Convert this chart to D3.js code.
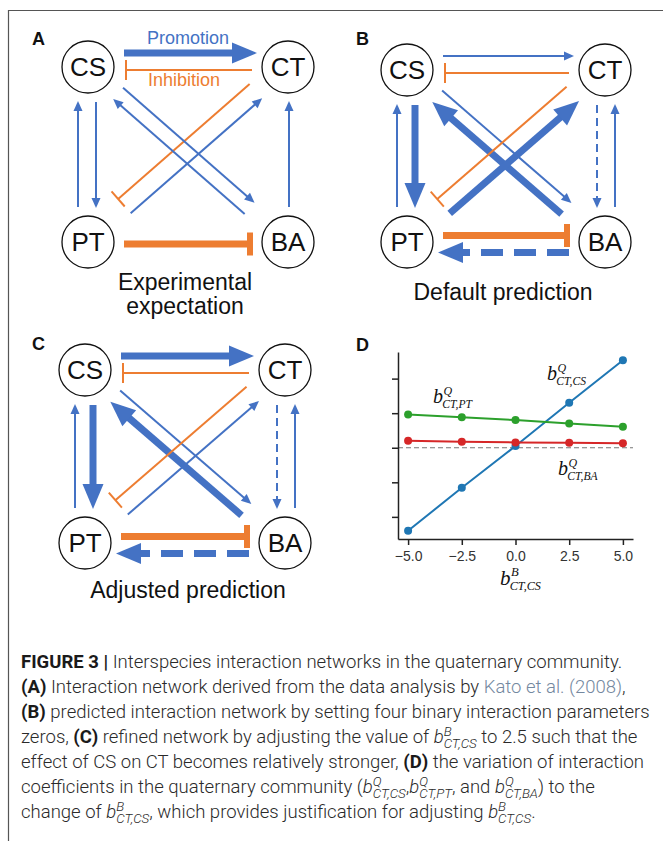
<!DOCTYPE html>
<html>
<head>
<meta charset="utf-8">
<script src="https://cdn.jsdelivr.net/npm/d3@7"></script>
<style>
  body { margin: 0; background: #fff; }
  svg { display: block; }
</style>
</head>
<body>
<svg id="fig" width="663" height="841"></svg>
<script>
const BLUE = '#4472c4', ORANGE = '#ed7d31'
const SANS = '"Liberation Sans", Arial, sans-serif'
const SERIF = '"Liberation Serif", "Times New Roman", serif'

// ---- network data: [source, target, kind, weight, dashed]
const nodeNames = ['CS', 'CT', 'PT', 'BA']
const nodeCol = { CS: 0, CT: 1, PT: 0, BA: 1 }
const nodeRow = { CS: 0, CT: 0, PT: 1, BA: 1 }

const edgesA = [
  ['CS', 'CT', 'promote', 'thick', false],
  ['CT', 'CS', 'inhibit', 'thin', false],
  ['CS', 'PT', 'promote', 'thin', false],
  ['PT', 'CS', 'promote', 'thin', false],
  ['BA', 'CT', 'promote', 'thin', false],
  ['PT', 'BA', 'inhibit', 'thick', false],
  ['CT', 'PT', 'inhibit', 'thin', false],
  ['PT', 'CT', 'promote', 'thin', false],
  ['CS', 'BA', 'promote', 'thin', false],
  ['BA', 'CS', 'promote', 'thin', false]
]
const edgesB = [
  ['CS', 'CT', 'promote', 'thin', false],
  ['CT', 'CS', 'inhibit', 'thin', false],
  ['CS', 'PT', 'promote', 'thick', false],
  ['PT', 'CS', 'promote', 'thin', false],
  ['CT', 'BA', 'promote', 'thin', true],
  ['BA', 'CT', 'promote', 'thin', false],
  ['CS', 'BA', 'promote', 'thin', false],
  ['BA', 'CS', 'promote', 'thick', false],
  ['PT', 'CT', 'promote', 'thick', false],
  ['CT', 'PT', 'inhibit', 'thin', false],
  ['PT', 'BA', 'inhibit', 'thick', false],
  ['BA', 'PT', 'promote', 'thick', true]
]
const edgesC = [
  ['CS', 'CT', 'promote', 'thick', false],
  ['CT', 'CS', 'inhibit', 'thin', false],
  ['CS', 'PT', 'promote', 'thick', false],
  ['PT', 'CS', 'promote', 'thin', false],
  ['CT', 'BA', 'promote', 'thin', true],
  ['BA', 'CT', 'promote', 'thin', false],
  ['CS', 'BA', 'promote', 'thin', false],
  ['BA', 'CS', 'promote', 'thick', false],
  ['PT', 'CT', 'promote', 'thin', false],
  ['CT', 'PT', 'inhibit', 'thin', false],
  ['PT', 'BA', 'inhibit', 'thick', false],
  ['BA', 'PT', 'promote', 'thick', true]
]

// ---- panel D data
const bValues = [-5, -2.5, 0, 2.5, 5]
const coefCS = [-2.40, -1.16, 0.05, 1.30, 2.53]
const coefPT = [0.965, 0.88, 0.80, 0.705, 0.61]
const coefBA = [0.20, 0.17, 0.155, 0.145, 0.13]
const xTicks = [-5, -2.5, 0, 2.5, 5]
const yTicks = [-2, -1, 0, 1, 2]

// ---- caption
const captionLines = [
  [{ t: 'FIGURE 3 |', b: true }, { t: ' Interspecies interaction networks in the quaternary community.' }],
  [{ t: '(A)', b: true }, { t: ' Interaction network derived from the data analysis by ' }, { t: 'Kato et al. (2008)', link: true }, { t: ',' }],
  [{ t: '(B)', b: true }, { t: ' predicted interaction network by setting four binary interaction parameters' }],
  [{ t: 'zeros, ' }, { t: '(C)', b: true }, { t: ' refined network by adjusting the value of ' }, { m: ['B', 'CT,CS'] }, { t: ' to 2.5 such that the' }],
  [{ t: 'effect of CS on CT becomes relatively stronger, ' }, { t: '(D)', b: true }, { t: ' the variation of interaction' }],
  [{ t: 'coefficients in the quaternary community (' }, { m: ['Q', 'CT,CS'] }, { t: ',' }, { m: ['Q', 'CT,PT'] }, { t: ', and ' }, { m: ['Q', 'CT,BA'] }, { t: ') to the' }],
  [{ t: 'change of ' }, { m: ['B', 'CT,CS'] }, { t: ', which provides justification for adjusting ' }, { m: ['B', 'CT,CS'] }, { t: '.' }]
]

const svg = d3.select('#fig')

// frame
svg.append('path').attr('d', 'M8.5,841V10.5H663').attr('fill', 'none').attr('stroke', '#555').attr('stroke-width', 1.2)

const networkPanels = [
  { label: 'A', edges: edgesA, x: [88, 288], y: [67, 242], lx: 32, ly: 45, title: ['Experimental', 'expectation'], tx: 185, ty: 290 },
  { label: 'B', edges: edgesB, x: [407, 605], y: [70, 242], lx: 356, ly: 45, title: ['Default prediction'], tx: 503, ty: 300 },
  { label: 'C', edges: edgesC, x: [85, 285], y: [370, 543], lx: 32, ly: 350, title: ['Adjusted prediction'], tx: 188, ty: 598 }
]

const style = {
  thin: { sw: 2, headL: 10, headW: 4.5, bar: 10, barW: 2, dash: '8,5' },
  thick: { sw: 7, headL: 25, headW: 10.5, bar: 11.5, barW: 6, dash: '22,11' }
}

function drawNetwork(p) {
  const g = svg.append('g')
  const xs = d3.scaleLinear().domain([0, 1]).range(p.x)
  const ys = d3.scaleLinear().domain([0, 1]).range(p.y)
  const pos = n => ({ x: xs(nodeCol[n]), y: ys(nodeRow[n]) })
  const edges = p.edges.map(([source, target, kind, weight, dashed]) => ({ source, target, kind, weight, dashed }))
  const hasPair = e => edges.some(o => o.source === e.target && o.target === e.source)

  edges.forEach(e => {
    const s = pos(e.source), t = pos(e.target)
    const dx = t.x - s.x, dy = t.y - s.y, len = Math.hypot(dx, dy)
    const ux = dx / len, uy = dy / len
    const lx = uy, ly = -ux // left of travel
    let side = 1, mag = 0, shx = 0, shy = 0, gs, gt
    const sameRow = nodeRow[e.source] === nodeRow[e.target]
    const sameCol = nodeCol[e.source] === nodeCol[e.target]
    if (sameRow) {
      mag = 8.5
      shy = nodeRow[e.source] === 0 ? -5.5 : 2
      gs = 36; gt = e.kind === 'inhibit' ? 38 : 31
    } else if (sameCol) {
      mag = 9
      side = nodeCol[e.source] === 0 ? 1 : -1
      shx = nodeCol[e.source] === 0 ? -1 : 1
      gs = 35; gt = 34
    } else {
      const main = (e.source === 'CS' || e.source === 'BA')
      side = main ? 1 : -1
      mag = main ? 7.5 : 9.5
      if (!main) { shx = -2; shy = -2.3 }
      gs = nodeRow[e.source] === 0 ? 40 : 51
      gt = nodeRow[e.target] === 0 ? 40 : 51
    }
    const off = hasPair(e) ? mag * side : 0
    const ox = lx * off + shx, oy = ly * off + shy
    const x0 = s.x + ux * gs + ox, y0 = s.y + uy * gs + oy
    const x1 = t.x - ux * gt + ox, y1 = t.y - uy * gt + oy
    const st = style[e.weight]
    const color = e.kind === 'promote' ? BLUE : ORANGE
    if (e.kind === 'promote') {
      const bx = x1 - ux * st.headL * 0.85, by = y1 - uy * st.headL * 0.85
      g.append('line').attr('x1', x0).attr('y1', y0).attr('x2', bx).attr('y2', by)
        .attr('stroke', color).attr('stroke-width', st.sw)
        .attr('stroke-dasharray', e.dashed ? st.dash : null)
      const hx = x1 - ux * st.headL, hy = y1 - uy * st.headL
      const pts = [[x1, y1], [hx + lx * st.headW, hy + ly * st.headW], [hx - lx * st.headW, hy - ly * st.headW]]
      g.append('path').attr('d', d3.line()(pts) + 'Z').attr('fill', color)
    } else {
      g.append('line').attr('x1', x0).attr('y1', y0).attr('x2', x1).attr('y2', y1)
        .attr('stroke', color).attr('stroke-width', st.sw)
      g.append('line')
        .attr('x1', x1 + lx * st.bar).attr('y1', y1 + ly * st.bar)
        .attr('x2', x1 - lx * st.bar).attr('y2', y1 - ly * st.bar)
        .attr('stroke', color).attr('stroke-width', st.barW)
    }
  })

  const nodes = g.selectAll('g.node').data(nodeNames).join('g').attr('class', 'node')
    .attr('transform', d => `translate(${pos(d).x},${pos(d).y})`)
  nodes.append('circle').attr('r', 26).attr('fill', '#fff').attr('stroke', '#111').attr('stroke-width', 1.3)
  nodes.append('text').text(d => d).attr('text-anchor', 'middle').attr('dy', '0.36em')
    .attr('font-family', SANS).attr('font-size', 26).attr('fill', '#111')

  g.append('text').text(p.label).attr('x', p.lx).attr('y', p.ly)
    .attr('font-family', SANS).attr('font-weight', 'bold').attr('font-size', 18).attr('fill', '#111')
  p.title.forEach((line, i) => {
    g.append('text').text(line).attr('x', p.tx).attr('y', p.ty + i * 24)
      .attr('text-anchor', 'middle').attr('font-family', SANS).attr('font-size', 23).attr('fill', '#111')
  })
  return g
}

const gA = drawNetwork(networkPanels[0])
drawNetwork(networkPanels[1])
drawNetwork(networkPanels[2])

gA.append('text').text('Promotion').attr('x', 188).attr('y', 44).attr('text-anchor', 'middle')
  .attr('font-family', SANS).attr('font-size', 18).attr('fill', BLUE)
gA.append('text').text('Inhibition').attr('x', 184).attr('y', 86).attr('text-anchor', 'middle')
  .attr('font-family', SANS).attr('font-size', 18).attr('fill', ORANGE)

// ---- panel D
const gD = svg.append('g')
const x = d3.scaleLinear().domain([-5.47, 5.47]).range([398, 633])
const y = d3.scaleLinear().domain([-2.64, 2.77]).range([539, 352])

gD.append('text').text('D').attr('x', 356).attr('y', 351)
  .attr('font-family', SANS).attr('font-weight', 'bold').attr('font-size', 18).attr('fill', '#111')

gD.append('line').attr('x1', x.range()[0]).attr('x2', x.range()[1]).attr('y1', y(0)).attr('y2', y(0))
  .attr('stroke', '#777').attr('stroke-width', 1.1).attr('stroke-dasharray', '5,3')

const series = [
  { vals: coefCS, color: '#1f77b4' },
  { vals: coefPT, color: '#2ca02c' },
  { vals: coefBA, color: '#d62728' }
]
series.forEach(s => {
  const pts = bValues.map((b, i) => [x(b), y(s.vals[i])])
  gD.append('path').attr('d', d3.line()(pts)).attr('fill', 'none').attr('stroke', s.color).attr('stroke-width', 2)
  gD.selectAll(null).data(pts).join('circle').attr('cx', d => d[0]).attr('cy', d => d[1]).attr('r', 4).attr('fill', s.color)
})

const yAxis = gD.append('g').attr('transform', `translate(${x.range()[0]},0)`)
  .call(d3.axisLeft(y).tickValues(yTicks).tickFormat('').tickSize(6).tickSizeOuter(0))
yAxis.selectAll('text').remove()
const xAxis = gD.append('g').attr('transform', `translate(0,${y.range()[0]})`)
  .call(d3.axisBottom(x).tickValues(xTicks).tickFormat(d3.format('.1f')).tickSize(6).tickSizeOuter(0).tickPadding(6))
;[yAxis, xAxis].forEach(a => {
  a.selectAll('path, line').attr('stroke', '#222').attr('stroke-width', 1.5)
  a.selectAll('text').attr('font-family', SANS).attr('font-size', 14).attr('fill', '#333')
})

function mathLabel(g, x0, y0, sup, sub, size, family, color) {
  const t = g.append('text').attr('x', x0).attr('y', y0).attr('font-family', family)
    .attr('font-style', 'italic').attr('fill', color).attr('font-size', size)
  t.append('tspan').text('b')
  const sp = t.append('tspan').text(sup).attr('font-size', size * 0.6).attr('dy', -size * 0.42).attr('dx', size * 0.02)
  const w1 = sp.node().getComputedTextLength()
  t.append('tspan').text(sub).attr('font-size', size * 0.58).attr('dy', size * 0.68).attr('dx', -w1 - size * 0.06)
  return t
}
mathLabel(gD, 547, 380, 'Q', 'CT,CS', 20, SERIF, '#111')
mathLabel(gD, 433, 403, 'Q', 'CT,PT', 20, SERIF, '#111')
mathLabel(gD, 558, 475, 'Q', 'CT,BA', 20, SERIF, '#111')
mathLabel(gD, 500, 585, 'B', 'CT,CS', 21, SERIF, '#111')

// ---- caption
const capX = 21, capY = 668, capStep = 25
const capFont = 'Roboto, "Liberation Sans", sans-serif'
function writeLine(line, i, fs) {
  const t = svg.append('text').attr('x', capX).attr('y', capY + i * capStep)
    .attr('font-family', capFont).attr('font-size', fs).attr('fill', '#2a2a2a')
    .attr('font-weight', 300).style('white-space', 'pre')
  let pendDx = 0, pendDy = 0
  const add = (txt) => {
    const ts = t.append('tspan').text(txt)
    if (pendDx) ts.attr('dx', pendDx)
    if (pendDy) ts.attr('dy', pendDy)
    pendDx = 0; pendDy = 0
    return ts
  }
  line.forEach(seg => {
    if (seg.m) {
      add('b').attr('font-style', 'italic')
      pendDy = -fs * 0.4
      const sp = add(seg.m[0]).attr('font-style', 'italic').attr('font-size', fs * 0.72)
      const w1 = sp.node().getComputedTextLength()
      pendDy = fs * 0.68; pendDx = -w1
      const sb = add(seg.m[1]).attr('font-style', 'italic').attr('font-size', fs * 0.72)
      const w2 = sb.node().getComputedTextLength()
      pendDy = -fs * 0.28; pendDx = Math.max(0, w1 - w2)
    } else {
      const ts = add(seg.t)
      if (seg.b) ts.attr('font-weight', 700).attr('fill', '#1a1a1a')
      if (seg.link) ts.attr('fill', '#7488a0')
    }
  })
  return t
}
const probe = writeLine(captionLines[2], 2, 16)
const capSize = 16 * 629 / probe.node().getComputedTextLength()
probe.remove()
captionLines.forEach((line, i) => writeLine(line, i, capSize))
</script>
</body>
</html>
